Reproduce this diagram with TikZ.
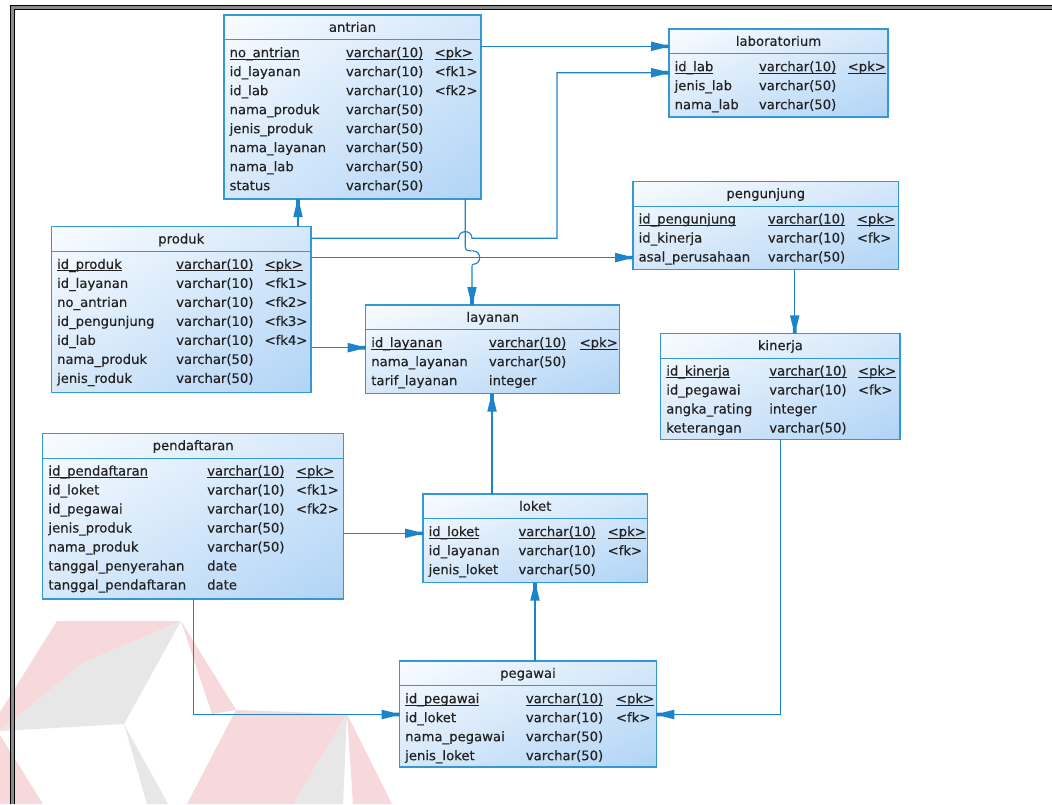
\documentclass[tikz,border=0pt]{standalone}
\usepackage{fontspec}
\newfontfamily\erfont[FakeBold=0.35]{DejaVu Sans}
\usetikzlibrary{decorations.markings,shadings}
\definecolor{boxc}{RGB}{52,152,210}
\definecolor{linec}{RGB}{28,132,200}
\definecolor{txtc}{RGB}{34,34,34}
\definecolor{shA}{RGB}{249,252,255}
\definecolor{shB}{RGB}{214,232,250}
\definecolor{shC}{RGB}{176,212,246}
\definecolor{wpink}{RGB}{247,217,220}
\definecolor{wgray}{RGB}{231,231,231}
\newcommand\pku[1]{\setbox0\hbox{#1}\rlap{\rule[-2.3pt]{\wd0}{0.9pt}}\box0}
\newcommand\erfmt[2]{\ifnum#1=1 \pku{#2}\else #2\fi}
\tikzset{
  tbl/.style={draw=boxc, line width=1.1pt, anchor=north west, inner sep=0pt, outer sep=0pt,
    shade, upper left=shA, upper right=shB, lower left=shB, lower right=shC},
  cell/.style={anchor=base west, inner sep=0pt, outer sep=0pt, text=txtc,
    font=\erfont\fontsize{13.2}{15}\selectfont},
  fk/.style={draw=linec, line width=1.15pt, postaction={decorate},
    decoration={markings, mark=at position 1 with {\fill[linec] (0pt,-1.8pt) -- (-6pt,-1.8pt) -- (-18pt,-4.8pt) -- (-18pt,4.8pt) -- (-6pt,1.8pt) -- (0pt,1.8pt) -- cycle;}}},
  wmp/.style={fill=wpink, draw=none},
  wmg/.style={fill=wgray, draw=none}
}
\newcommand\ertable[9]{%
  \node[tbl, minimum width={(#4-#2)*1pt}, minimum height={(#5-#3)*1pt}] (#1) at (#2,#3) {};
  \draw[boxc, line width=1.1pt] ([yshift=-24.8pt]#1.north west) -- ([yshift=-24.8pt]#1.north east);
  \node[cell, anchor=base] (#1-title) at ([yshift=-16.8pt]#1.north) {#6};
  \foreach \rn/\rt/\rk/\ru [count=\ri from 0] in {#9}{%
    \pgfmathsetmacro\ry{#3+37.8+19*\ri+4.4}
    \node[cell] (#1-n\ri) at (#2+5.6,\ry) {\erfmt{\ru}{\rn}};
    \node[cell] (#1-t\ri) at (#7,\ry) {\erfmt{\ru}{\rt}};
    \node[cell] (#1-k\ri) at (#8,\ry) {\erfmt{\ru}{\rk}};
  }%
}
\begin{document}
\begin{tikzpicture}[x=1pt, y=-1pt]
\useasboundingbox[fill=white] (0,0) rectangle (1052,804);
% watermark
\fill[wmp] (57,621) -- (181,621) -- (83,663) -- (0,731) -- (0,712) -- cycle;
\fill[wmg] (181,621) -- (83,663) -- (0,731) -- (124,724) -- cycle;
\fill[wmp] (181,621) -- (236,710) -- (212,714) -- cycle;
\fill[wmg] (124,724) -- (147,804) -- (168,804) -- cycle;
\fill[wmp] (0,735) -- (43,804) -- (0,804) -- cycle;
\fill[wmp] (236,710) -- (347,714) -- (293,804) -- (187,804) -- cycle;
\fill[wmg] (347,714) -- (293,804) -- (343,804) -- cycle;
\fill[wmp] (347,714) -- (353,804) -- (392,804) -- cycle;
% frame
\draw[black!45, line width=3.4pt] (12.25,804) -- (12.25,7.5) -- (1052,7.5);
\draw[black, line width=0.8pt] (10.5,804) -- (10.5,5.8) -- (1052,5.8);
\draw[black, line width=0.8pt] (14,804) -- (14,9.2) -- (1052,9.2);
% tables
\ertable{antrian}{224}{15}{481}{199}{antrian}{346}{434.7}{no\_antrian/varchar(10)/<pk>/1, id\_layanan/varchar(10)/<fk1>/0, id\_lab/varchar(10)/<fk2>/0, nama\_produk/varchar(50)/{}/0, jenis\_produk/varchar(50)/{}/0, nama\_layanan/varchar(50)/{}/0, nama\_lab/varchar(50)/{}/0, status/varchar(50)/{}/0}
\ertable{laboratorium}{669}{29}{888}{117}{laboratorium}{759}{847.7}{id\_lab/varchar(10)/<pk>/1, jenis\_lab/varchar(50)/{}/0, nama\_lab/varchar(50)/{}/0}
\ertable{pengunjung}{633}{181.3}{898.5}{269.3}{pengunjung}{767.9}{856.9}{id\_pengunjung/varchar(10)/<pk>/1, id\_kinerja/varchar(10)/<fk>/0, asal\_perusahaan/varchar(50)/{}/0}
\ertable{produk}{51.5}{226.7}{311}{392.3}{produk}{176.2}{264.6}{id\_produk/varchar(10)/<pk>/1, id\_layanan/varchar(10)/<fk1>/0, no\_antrian/varchar(10)/<fk2>/0, id\_pengunjung/varchar(10)/<fk3>/0, id\_lab/varchar(10)/<fk4>/0, nama\_produk/varchar(50)/{}/0, jenis\_roduk/varchar(50)/{}/0}
\ertable{layanan}{365.7}{305}{619.8}{393.7}{layanan}{489}{579.6}{id\_layanan/varchar(10)/<pk>/1, nama\_layanan/varchar(50)/{}/0, tarif\_layanan/integer/{}/0}
\ertable{kinerja}{660.7}{333.3}{900}{439.3}{kinerja}{769.3}{858}{id\_kinerja/varchar(10)/<pk>/1, id\_pegawai/varchar(10)/<fk>/0, angka\_rating/integer/{}/0, keterangan/varchar(50)/{}/0}
\ertable{pendaftaran}{42.9}{433.3}{343.4}{599}{pendaftaran}{207.2}{296}{id\_pendaftaran/varchar(10)/<pk>/1, id\_loket/varchar(10)/<fk1>/0, id\_pegawai/varchar(10)/<fk2>/0, jenis\_produk/varchar(50)/{}/0, nama\_produk/varchar(50)/{}/0, tanggal\_penyerahan/date/{}/0, tanggal\_pendaftaran/date/{}/0}
\ertable{loket}{423}{494}{647.5}{582.7}{loket}{518.5}{607.7}{id\_loket/varchar(10)/<pk>/1, id\_layanan/varchar(10)/<fk>/0, jenis\_loket/varchar(50)/{}/0}
\ertable{pegawai}{399.6}{661}{656.3}{767}{pegawai}{525.9}{616}{id\_pegawai/varchar(10)/<pk>/1, id\_loket/varchar(10)/<fk>/0, nama\_pegawai/varchar(50)/{}/0, jenis\_loket/varchar(50)/{}/0}
% connectors
\draw[fk] (antrian.east |- 0,46.3) -- (laboratorium.west |- 0,46.3);
\draw[fk] (produk.east |- 0,238.3) -- (458.6,238.3) .. controls (458.6,229.4) and (472,229.4) .. (472,238.3) -- (557,238.3) -- (557,72.7) -- (laboratorium.west |- 0,72.7);
\draw[fk] (produk.north -| 298,0) -- (antrian.south -| 298,0);
\draw[fk] (produk.east |- 0,257.6) -- (pengunjung.west |- 0,257.6);
\draw[fk] (antrian.south -| 465.3,0) -- (465.3,247) .. controls (465.3,250.6) and (468,250.9) .. (473,250.9) .. controls (481.9,250.9) and (481.9,264.3) .. (473,264.3) .. controls (472,264.3) and (472,265.5) .. (472,268) -- (layanan.north -| 472,0);
\draw[fk] (produk.east |- 0,347.7) -- (layanan.west |- 0,347.7);
\draw[fk] (pengunjung.south -| 794.7,0) -- (kinerja.north -| 794.7,0);
\draw[fk] (loket.north -| 492,0) -- (layanan.south -| 492,0);
\draw[fk] (pendaftaran.east |- 0,533.3) -- (loket.west |- 0,533.3);
\draw[fk] (pegawai.north -| 535,0) -- (loket.south -| 535,0);
\draw[fk] (pendaftaran.south -| 193.3,0) -- (193.3,714.5) -- (pegawai.west |- 0,714.5);
\draw[fk] (kinerja.south -| 780.7,0) -- (780.7,714.5) -- (pegawai.east |- 0,714.5);
\end{tikzpicture}
\end{document}
